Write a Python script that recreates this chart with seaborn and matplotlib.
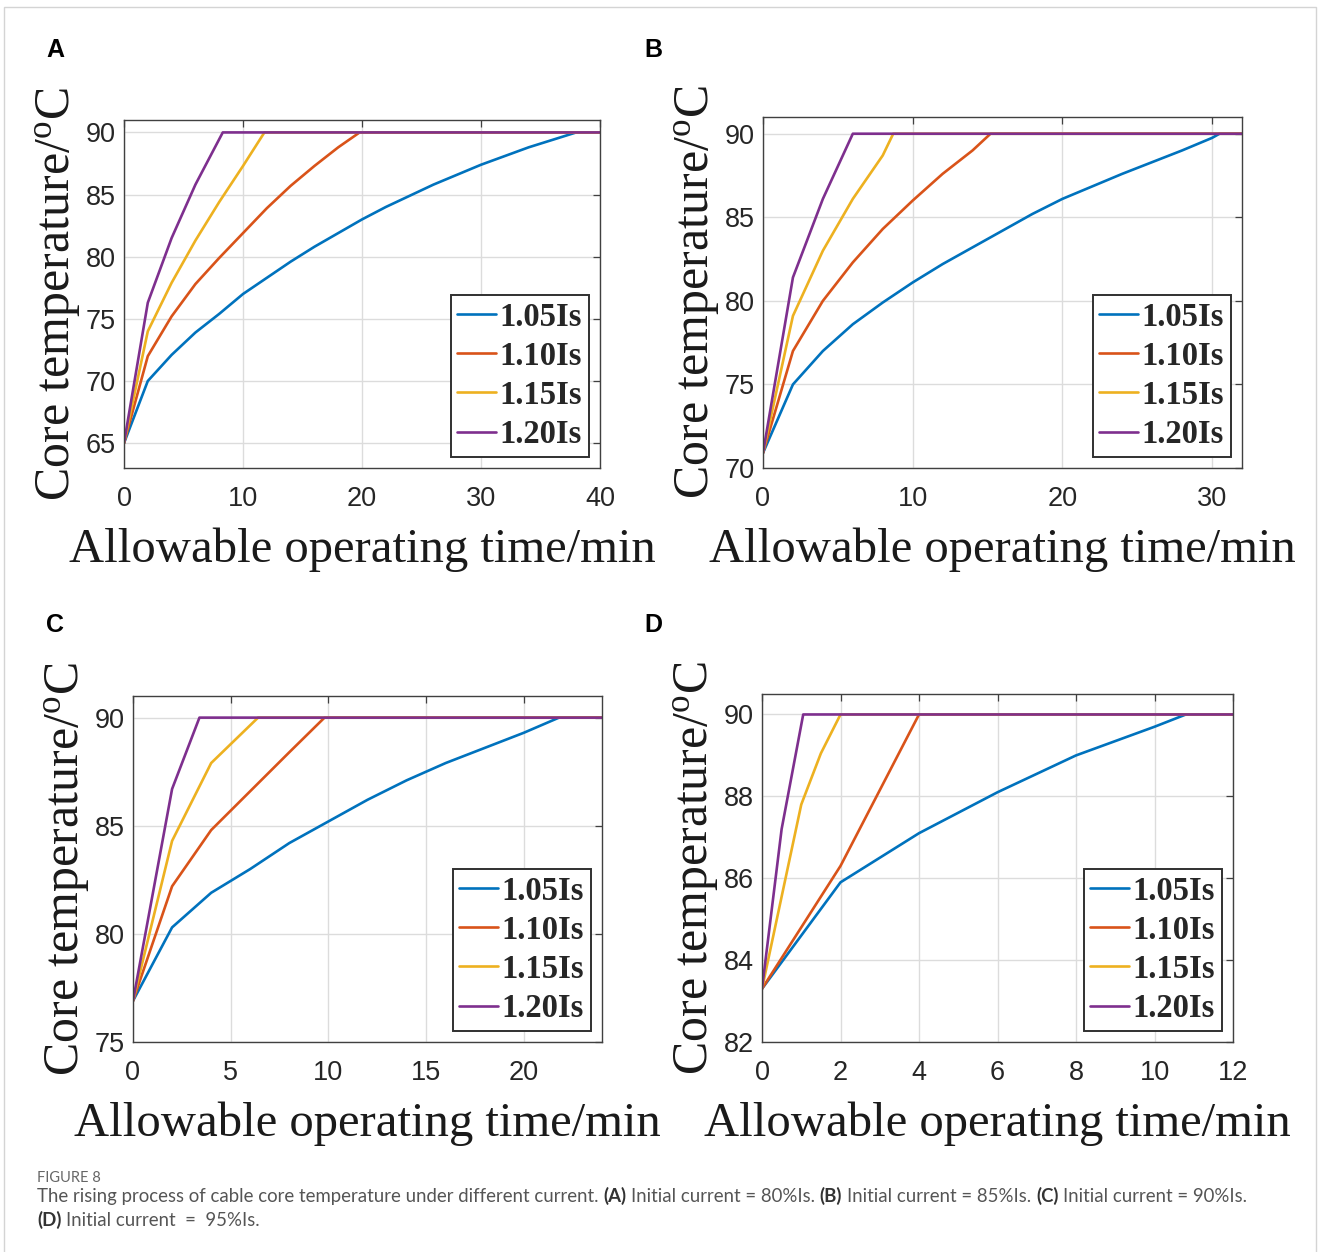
import matplotlib

matplotlib.use("Agg")
import matplotlib.pyplot as plt
import pandas as pd
import seaborn as sns
from matplotlib.font_manager import FontProperties


FIG_W, FIG_H = 1318, 1252

SERIES_LABELS = ["1.05Is", "1.10Is", "1.15Is", "1.20Is"]
SERIES_COLORS = ["#0072BD", "#D95319", "#EDB120", "#7E2F8E"]

# (A) initial current = 80%Is
A_TIMES = [
    [0, 2, 4, 6, 8, 10, 12, 14, 16, 18, 20, 22, 24, 26, 28, 30, 32, 34, 36, 38, 40],
    [0, 2, 4, 6, 8, 10, 12, 14, 16, 18, 19.8, 40],
    [0, 2, 4, 6, 8, 10, 11.8, 40],
    [0, 2, 4, 6, 8.3, 40],
]
A_TEMPS = [
    [65, 70, 72.1, 73.9, 75.4, 77.0, 78.3, 79.6, 80.8, 81.9, 83.0, 84.0, 84.9, 85.8, 86.6, 87.4, 88.1, 88.8, 89.4, 90, 90],
    [65, 72, 75.2, 77.8, 79.9, 81.9, 83.9, 85.7, 87.3, 88.8, 90, 90],
    [65, 74, 77.9, 81.3, 84.4, 87.3, 90, 90],
    [65, 76.3, 81.5, 85.8, 90, 90],
]
A_XTICKS = [0, 10, 20, 30, 40]
A_YTICKS = [65, 70, 75, 80, 85, 90]

# (B) initial current = 85%Is
B_TIMES = [
    [0, 2, 4, 6, 8, 10, 12, 14, 16, 18, 20, 22, 24, 26, 28, 30, 30.5, 32],
    [0, 2, 4, 6, 8, 10, 12, 14, 15.2, 32],
    [0, 2, 4, 6, 8, 8.7, 32],
    [0, 2, 4, 6, 32],
]
B_TEMPS = [
    [70.9, 75, 77, 78.6, 79.9, 81.1, 82.2, 83.2, 84.2, 85.2, 86.1, 86.85, 87.6, 88.3, 89.0, 89.75, 90, 90],
    [70.9, 77, 80, 82.3, 84.3, 86.0, 87.6, 89.0, 90, 90],
    [70.9, 79.1, 83.0, 86.1, 88.7, 90, 90],
    [70.9, 81.4, 86.1, 90, 90],
]
B_XTICKS = [0, 10, 20, 30]
B_YTICKS = [70, 75, 80, 85, 90]

# (C) initial current = 90%Is
C_TIMES = [
    [0, 2, 4, 6, 8, 10, 12, 14, 16, 18, 20, 21.8, 24],
    [0, 2, 4, 6, 8, 9.8, 24],
    [0, 2, 4, 6.4, 24],
    [0, 2, 3.4, 24],
]
C_TEMPS = [
    [76.9, 80.3, 81.9, 83.0, 84.2, 85.2, 86.2, 87.1, 87.9, 88.6, 89.3, 90, 90],
    [76.9, 82.2, 84.8, 86.6, 88.4, 90, 90],
    [76.9, 84.3, 87.9, 90, 90],
    [76.9, 86.7, 90, 90],
]
C_XTICKS = [0, 5, 10, 15, 20]
C_YTICKS = [75, 80, 85, 90]

# (D) initial current = 95%Is
D_TIMES = [
    [0, 2, 4, 6, 8, 10, 10.8, 12],
    [0, 2, 4, 12],
    [0, 1, 1.5, 2, 12],
    [0, 0.5, 1.05, 12],
]
D_TEMPS = [
    [83.3, 85.9, 87.1, 88.1, 89.0, 89.7, 90, 90],
    [83.3, 86.3, 90, 90],
    [83.3, 87.8, 89.05, 90, 90],
    [83.3, 87.2, 90, 90],
]
D_XTICKS = [0, 2, 4, 6, 8, 10, 12]
D_YTICKS = [82, 84, 86, 88, 90]

X_LABEL = "Allowable operating time/min"
Y_LABEL = "Core temperature/$^{\\mathrm{o}}$C"

CAPTION_TITLE = "FIGURE 8"
CAPTION_LINE_1 = [
    ("The rising process of cable core temperature under different current.", False),
    ("(A)", True),
    ("Initial current = 80%Is.", False),
    ("(B)", True),
    ("Initial current = 85%Is.", False),
    ("(C)", True),
    ("Initial current = 90%Is.", False),
]
CAPTION_LINE_2 = [
    ("(D)", True),
    ("Initial current  =  95%Is.", False),
]

SERIF = "Liberation Serif"
SANS = "Liberation Sans"
CAPTION_FONT = "Lato"


def set_chart_theme():
    sns.set_theme(style="whitegrid")
    plt.rcParams["font.family"] = [SANS, "DejaVu Sans"]
    plt.rcParams["mathtext.fontset"] = "custom"
    plt.rcParams["mathtext.rm"] = SERIF
    plt.rcParams["mathtext.it"] = SERIF + ":italic"
    plt.rcParams["mathtext.bf"] = SERIF + ":bold"
    plt.rcParams["figure.facecolor"] = "white"
    plt.rcParams["axes.facecolor"] = "white"


def px_box(left, top, right, bottom):
    return [left / FIG_W, 1 - bottom / FIG_H, (right - left) / FIG_W, (bottom - top) / FIG_H]


def build_frame(times, temps):
    rows = []
    for label, xs, ys in zip(SERIES_LABELS, times, temps):
        rows.extend({"time": x, "temp": y, "current": label} for x, y in zip(xs, ys))
    return pd.DataFrame(rows)


def draw_panel(fig, letter, letter_xy, box, times, temps, xlim, ylim, xticks, yticks):
    ax = fig.add_axes(px_box(*box))
    data = build_frame(times, temps)
    sns.lineplot(
        data=data,
        x="time",
        y="temp",
        hue="current",
        hue_order=SERIES_LABELS,
        palette=dict(zip(SERIES_LABELS, SERIES_COLORS)),
        estimator=None,
        sort=False,
        linewidth=1.9,
        legend=False,
        ax=ax,
    )

    ax.set_xlim(*xlim)
    ax.set_ylim(*ylim)
    ax.set_xticks(xticks)
    ax.set_yticks(yticks)
    ax.set_axisbelow(True)
    ax.grid(True, color="#dcdcdc", linewidth=1.0)
    for spine in ax.spines.values():
        spine.set_visible(True)
        spine.set_color("#404040")
        spine.set_linewidth(1.0)
    ax.tick_params(axis="both", direction="in", length=5, width=0.9, color="#404040",
                   top=True, right=True, labelsize=19.5, labelcolor="#262626")
    ax.tick_params(axis="x", pad=13)
    ax.tick_params(axis="y", pad=6)

    ax.set_xlabel(X_LABEL, fontsize=35, fontfamily=SERIF, color="#1a1a1a", labelpad=11)
    ax.set_ylabel(Y_LABEL, fontsize=36, fontfamily=SERIF, color="#1a1a1a", labelpad=2)

    legend = ax.legend(
        ax.get_lines()[: len(SERIES_LABELS)],
        SERIES_LABELS,
        loc="lower right",
        prop=FontProperties(family=SERIF, weight="bold", size=23.5),
        frameon=True,
        fancybox=False,
        framealpha=1,
        edgecolor="#303030",
        handlelength=1.2,
        handletextpad=0.1,
        labelspacing=0.25,
        borderpad=0.2,
        borderaxespad=0.35,
    )
    legend.get_frame().set_linewidth(1.4)

    fig.text(letter_xy[0] / FIG_W, 1 - letter_xy[1] / FIG_H, letter, ha="center", va="center",
             fontsize=18, fontweight="bold", fontfamily=SANS, color="black")
    return ax


def text_width(fig, renderer, s, **kw):
    t = fig.text(0, 0, s, **kw)
    width = t.get_window_extent(renderer).width
    t.remove()
    return width


def draw_caption_line(fig, renderer, pieces, x_px, y_px, size):
    normal = dict(fontsize=size, fontfamily=CAPTION_FONT, color="#555555")
    bold = dict(fontsize=size, fontfamily=CAPTION_FONT, color="#333333", fontweight="bold")
    space = text_width(fig, renderer, "n n", **normal) - text_width(fig, renderer, "nn", **normal)
    x = x_px
    for text, is_bold in pieces:
        style = bold if is_bold else normal
        t = fig.text(x / FIG_W, 1 - y_px / FIG_H, text, va="baseline", ha="left", **style)
        x = t.get_window_extent(renderer).x1 + space


def draw_caption(fig):
    renderer = fig.canvas.get_renderer()
    fig.text(37 / FIG_W, 1 - 1182 / FIG_H, CAPTION_TITLE, va="baseline", ha="left",
             fontsize=10.5, fontfamily=CAPTION_FONT, color="#666666")
    draw_caption_line(fig, renderer, CAPTION_LINE_1, 37, 1202, 13.4)
    draw_caption_line(fig, renderer, CAPTION_LINE_2, 37, 1226, 13.4)


def draw_border(fig):
    frame = plt.Rectangle((4 / FIG_W, -0.01), 1312 / FIG_W, 1.01 - 7 / FIG_H,
                          transform=fig.transFigure, fill=False, edgecolor="#d4d4d4", linewidth=1.0)
    fig.add_artist(frame)


def main():
    set_chart_theme()
    fig = plt.figure(figsize=(FIG_W / 100, FIG_H / 100), dpi=100)

    draw_panel(fig, "A", (55, 50), (124, 120, 600, 468), A_TIMES, A_TEMPS,
               (0, 40), (63, 91), A_XTICKS, A_YTICKS)
    draw_panel(fig, "B", (653, 50), (763, 117, 1242, 468), B_TIMES, B_TEMPS,
               (0, 32), (70, 91), B_XTICKS, B_YTICKS)
    draw_panel(fig, "C", (55, 625), (133, 696, 602, 1042), C_TIMES, C_TEMPS,
               (0, 24), (75, 91), C_XTICKS, C_YTICKS)
    draw_panel(fig, "D", (653, 625), (762, 694, 1233, 1042), D_TIMES, D_TEMPS,
               (0, 12), (82, 90.5), D_XTICKS, D_YTICKS)

    draw_caption(fig)
    draw_border(fig)

    fig.savefig("out.png", dpi=100)
    plt.close(fig)


if __name__ == "__main__":
    main()
